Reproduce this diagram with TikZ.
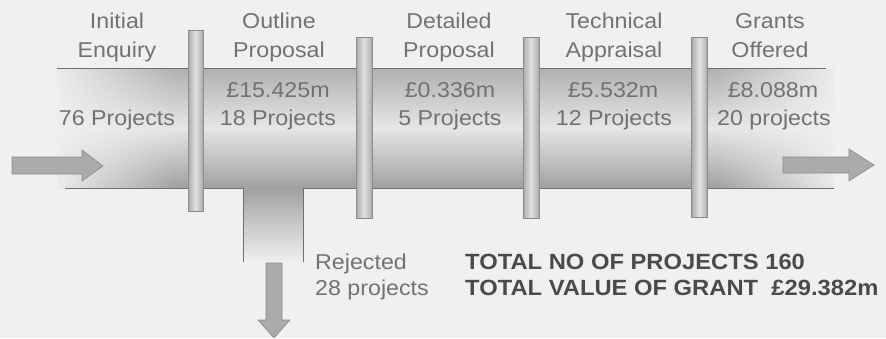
\documentclass[tikz,border=0pt]{standalone}
\usepackage{fontspec}
\setmainfont{Liberation Sans}[FakeStretch=1.08]
\usetikzlibrary{fadings}
\definecolor{bg}{HTML}{F0F0EF}
\definecolor{txt}{HTML}{727272}
\definecolor{boldtxt}{HTML}{4A4A4A}
\definecolor{pipeedge}{HTML}{6E6E6E}
\definecolor{pipedark}{HTML}{A0A0A0}
\definecolor{pipetop}{HTML}{B0B0B0}
\definecolor{pipemid}{HTML}{E6E6E6}
\definecolor{flangemid}{HTML}{E2E2E2}
\definecolor{flangeside}{HTML}{ABABAB}
\definecolor{arrowfill}{HTML}{ABABAB}
\definecolor{arrowedge}{HTML}{8A8A8A}
\begin{document}
\begin{tikzpicture}[x=1pt,y=-1pt,
  lbl/.style={anchor=base, text=txt, font=\fontsize{21.5}{26}\selectfont, inner sep=0pt},
  lblw/.style={lbl, anchor=base west},
  tot/.style={anchor=base west, text=boldtxt, font=\fontsize{22}{26}\selectfont\bfseries, inner sep=0pt},
  pipeline/.style={draw=pipeedge, line width=0.9pt},
  flange/.style={draw=arrowedge, line width=0.6pt, left color=flangeside, right color=flangeside, middle color=flangemid, inner sep=0pt, minimum width=15pt},
  blockarrow/.style={fill=arrowfill, draw=arrowedge, line width=0.6pt}]
\fill[bg] (0,0) rectangle (886,338);
\useasboundingbox (0,0) rectangle (886,338);
% pipe body
\fill[top color=pipetop, bottom color=pipedark, middle color=pipemid] (57,68) rectangle (834,188);
\fill[bg, path fading=east, fill opacity=0.95] (56,67) rectangle (175,189);
\fill[bg, path fading=west, fill opacity=0.95] (715,67) rectangle (835,189);
% branch
\fill[top color=pipedark, bottom color=bg] (243,187) rectangle (303,262);
% pipe outlines
\draw[pipeline] (57,68) -- (826,68);
\draw[pipeline] (65,188) -- (243,188) -- (243,262);
\draw[pipeline] (303,262) -- (303,188) -- (834,188);
% flanges
\node[flange, minimum height=181pt] (f1) at (195.5,120.5) {};
\node[flange, minimum height=181pt, minimum width=16pt] (f2) at (364,127.5) {};
\node[flange, minimum height=181pt, minimum width=16pt] (f3) at (531,127.5) {};
\node[flange, minimum height=180pt, minimum width=16pt] (f4) at (699.5,127) {};
% block arrows
\coordinate (inA) at (12,166);
\coordinate (outA) at (783,165);
\coordinate (rejA) at (274,263);
\filldraw[blockarrow] (12,157) -- (82,157) -- (82,150) -- (103,166) -- (82,181) -- (82,174) -- (12,174) -- cycle;
\filldraw[blockarrow] (783,157) -- (849,157) -- (849,149) -- (874,165) -- (849,181) -- (849,173) -- (783,173) -- cycle;
\filldraw[blockarrow] (266,263) -- (282,263) -- (282,320) -- (290,320) -- (274,338) -- (258,320) -- (266,320) -- cycle;
% stage headings
\node[lbl] (h1a) at (117,28) {Initial};
\node[lbl] (h1b) at (117,57) {Enquiry};
\node[lbl] (h2a) at (279,28) {Outline};
\node[lbl] (h2b) at (279,57) {Proposal};
\node[lbl] (h3a) at (449,28) {Detailed};
\node[lbl] (h3b) at (449,57) {Proposal};
\node[lbl] (h4a) at (614,28) {Technical};
\node[lbl] (h4b) at (614,57) {Appraisal};
\node[lbl] (h5a) at (770,28) {Grants};
\node[lbl] (h5b) at (770,57) {Offered};
% figures
\node[lbl] (n1) at (117,125) {76 Projects};
\node[lbl] (v2) at (278,97) {£15.425m};
\node[lbl] (n2) at (278,125) {18 Projects};
\node[lbl] (v3) at (450,97) {£0.336m};
\node[lbl] (n3) at (450,125) {5 Projects};
\node[lbl] (v4) at (613,97) {£5.532m};
\node[lbl] (n4) at (614,125) {12 Projects};
\node[lbl] (v5) at (773,97) {£8.088m};
\node[lbl] (n5) at (774,125) {20 projects};
% rejected
\node[lblw] (r1) at (315,269) {Rejected};
\node[lblw] (r2) at (315,295) {28 projects};
% totals
\node[tot] (t1) at (465,269) {TOTAL NO OF PROJECTS 160};
\node[tot] (t2) at (465,295) {TOTAL VALUE OF GRANT\ \ £29.382m};
\end{tikzpicture}
\end{document}
